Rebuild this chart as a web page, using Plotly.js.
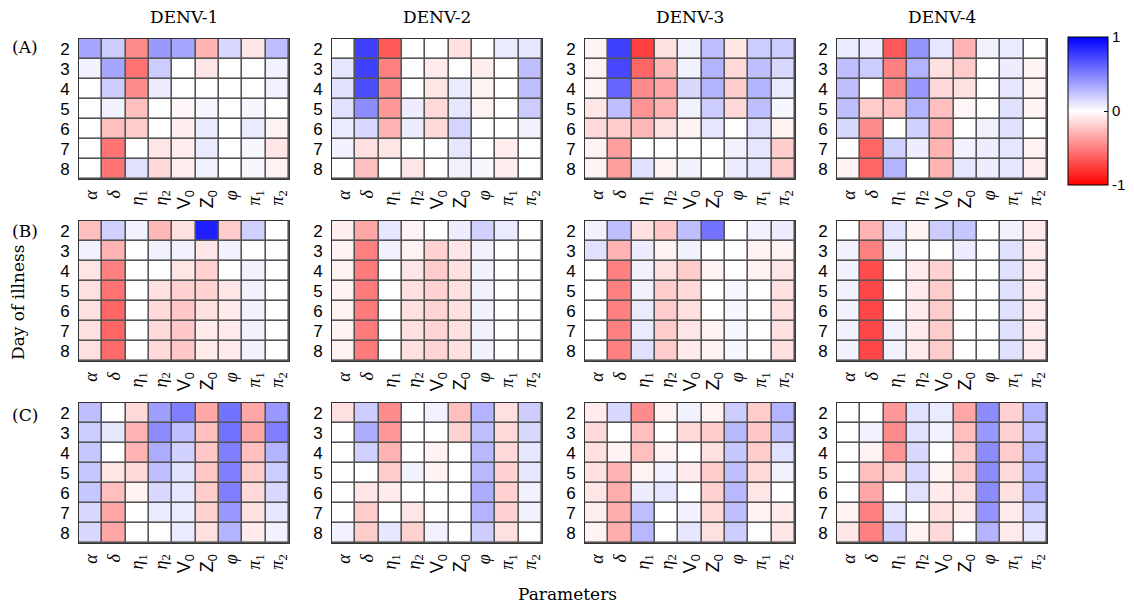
<!DOCTYPE html>
<html>
<head>
<meta charset="utf-8">
<script src="https://cdn.plot.ly/plotly-3.0.1.min.js"></script>
<style>html,body{margin:0;padding:0;background:#fff}#chart{width:1134px;height:607px}</style>
</head>
<body>
<div id="chart"></div>
<script>
// Parameter labels (x categories) and days of illness (y)
const params = ['<i>α</i>', '<i>δ</i>', '<i>η</i><sub>1</sub>', '<i>η</i><sub>2</sub>',
  '<span style="font-family:Liberation Sans">V<sub>0</sub></span>',
  '<span style="font-family:Liberation Sans">Z<sub>0</sub></span>',
  '<i>φ</i>', '<i>π</i><sub>1</sub>', '<i>π</i><sub>2</sub>'];
const days = [2, 3, 4, 5, 6, 7, 8];
const serotypes = ['DENV-1', 'DENV-2', 'DENV-3', 'DENV-4'];
const groups = ['(A)', '(B)', '(C)'];

// Row (A)
const A_DENV1 = [
  [0.35, 0.2, -0.45, 0.4, 0.35, -0.3, 0.15, -0.1, 0.25],
  [0.05, 0.35, -0.55, 0.2, 0, -0.1, 0, 0, 0.05],
  [0, 0.2, -0.45, 0.07, 0, 0, 0, 0, 0.05],
  [0, 0.05, -0.25, 0, -0.03, 0.03, 0, 0.03, 0],
  [0, -0.25, -0.2, 0, -0.07, 0.08, 0, 0.08, -0.05],
  [0, -0.55, 0, -0.1, -0.07, 0.08, 0, 0.03, -0.1],
  [0, -0.55, 0.12, -0.15, -0.07, 0.05, 0, 0.03, -0.05]
];
const A_DENV2 = [
  [0, 0.75, -0.65, 0, 0, -0.12, 0, 0.08, 0.1],
  [0.1, 0.75, -0.5, 0, -0.08, 0, -0.07, 0, 0.25],
  [0.12, 0.7, -0.45, 0, -0.1, 0.08, -0.05, 0, 0.25],
  [0.12, 0.45, -0.4, 0.07, -0.15, 0.1, -0.05, 0, 0.2],
  [0.08, 0.15, -0.3, 0.07, -0.15, 0.17, 0, 0, 0.05],
  [0.05, -0.12, -0.1, 0, 0, 0.1, 0, -0.07, 0],
  [0, -0.25, 0, -0.1, 0, 0.05, 0.03, -0.07, 0]
];
const A_DENV3 = [
  [-0.05, 0.75, -0.75, -0.12, 0.05, 0.25, -0.1, 0.2, 0.2],
  [-0.05, 0.72, -0.6, -0.28, 0.05, 0.3, -0.15, 0.25, 0.15],
  [-0.05, 0.6, -0.45, -0.35, 0.15, 0.3, -0.2, 0.3, 0.08],
  [-0.1, 0.25, -0.42, -0.3, 0.05, 0.2, -0.15, 0.25, 0.03],
  [-0.15, -0.2, -0.28, -0.12, -0.05, 0.1, 0, 0.12, -0.05],
  [-0.05, -0.38, 0, 0, 0, 0, 0.05, 0.1, -0.2],
  [-0.05, -0.38, 0.12, -0.05, 0.05, 0, 0.07, 0.1, -0.2]
];
const A_DENV4 = [
  [0.08, 0.07, -0.65, 0.42, 0.1, -0.3, 0.05, 0.08, 0],
  [0.25, 0.2, -0.5, 0.3, -0.12, -0.2, 0, 0.07, -0.04],
  [0.25, 0, -0.45, 0.4, -0.15, -0.12, 0, 0.1, -0.04],
  [0.25, -0.2, -0.25, 0.3, -0.25, -0.03, 0, 0.12, -0.04],
  [0.15, -0.45, 0, 0.18, -0.3, 0, 0.05, 0.12, 0],
  [0, -0.6, 0.18, 0.07, -0.3, 0.05, 0.07, 0.1, -0.05],
  [-0.05, -0.6, 0.3, 0, -0.3, 0.1, 0.07, 0.1, -0.07]
];
// Row (B)
const B_DENV1 = [
  [-0.25, 0.18, 0.05, -0.28, -0.12, 0.88, -0.2, 0.18, 0],
  [0.05, -0.3, 0, 0.05, 0.05, -0.1, 0.05, 0, 0],
  [-0.1, -0.5, 0, 0, -0.1, -0.18, 0, 0.05, 0],
  [-0.12, -0.55, 0, -0.12, -0.18, -0.18, -0.1, 0.05, 0],
  [-0.12, -0.6, 0, -0.15, -0.22, -0.12, -0.08, 0.05, 0],
  [-0.12, -0.6, 0, -0.15, -0.22, -0.08, -0.08, 0.05, 0],
  [-0.12, -0.58, 0, -0.15, -0.22, -0.08, -0.08, 0.05, 0]
];
const B_DENV2 = [
  [-0.07, -0.35, 0.1, -0.05, 0, 0.07, 0.18, 0.08, 0],
  [-0.05, -0.5, 0.05, -0.05, -0.18, -0.1, 0.05, 0, 0],
  [-0.05, -0.52, 0, -0.1, -0.2, -0.12, 0.05, 0, 0],
  [-0.05, -0.52, 0, -0.12, -0.18, -0.12, 0.05, 0, 0],
  [-0.05, -0.52, 0, -0.12, -0.17, -0.12, 0.05, 0, 0],
  [-0.05, -0.52, 0, -0.12, -0.17, -0.12, 0.05, 0, 0],
  [-0.05, -0.52, 0, -0.12, -0.17, -0.12, 0.05, 0, 0]
];
const B_DENV3 = [
  [0.05, 0.25, -0.12, -0.22, 0.25, 0.55, 0, 0.05, 0.07],
  [0.12, -0.3, 0.07, -0.05, 0.05, 0, 0, -0.05, -0.05],
  [0, -0.5, 0.05, -0.12, -0.2, -0.05, 0, -0.05, -0.1],
  [0, -0.5, 0.05, -0.2, -0.15, 0, 0.03, 0, -0.12],
  [0, -0.5, 0.08, -0.2, -0.12, 0, 0.03, 0, -0.12],
  [0, -0.5, 0.08, -0.2, -0.1, -0.05, 0.03, 0, -0.12],
  [0, -0.5, 0.12, -0.2, -0.08, -0.05, 0.03, 0, -0.12]
];
const B_DENV4 = [
  [0, -0.3, 0.12, -0.05, 0.2, 0.22, 0, 0.05, -0.08],
  [0.05, -0.5, 0.05, 0, 0, 0.07, 0, 0.12, -0.08],
  [0.05, -0.7, 0, -0.08, -0.18, 0, 0, 0.12, -0.08],
  [0.05, -0.72, 0, -0.08, -0.2, 0, 0, 0.12, -0.08],
  [0.05, -0.72, 0, -0.08, -0.2, 0, 0, 0.12, -0.08],
  [0.05, -0.72, 0.05, -0.08, -0.2, 0, 0, 0.12, -0.08],
  [0.05, -0.72, 0.05, -0.08, -0.2, 0, 0, 0.12, -0.08]
];
// Row (C)
const C_DENV1 = [
  [0.25, 0, -0.15, 0.38, 0.5, -0.35, 0.55, -0.35, 0.4],
  [0.2, 0.1, -0.3, 0.45, 0.25, -0.25, 0.55, -0.35, 0.5],
  [0.22, 0, -0.3, 0.32, 0.18, -0.22, 0.5, -0.25, 0.3],
  [0.22, -0.1, -0.15, 0.25, 0.12, -0.22, 0.5, -0.2, 0.2],
  [0.22, -0.25, -0.05, 0.15, 0.1, -0.2, 0.5, -0.15, 0.15],
  [0.15, -0.35, 0, 0.08, 0.08, -0.18, 0.4, -0.12, 0.1],
  [0.15, -0.35, 0, 0, 0.08, -0.12, 0.3, -0.08, 0.05]
];
const C_DENV2 = [
  [-0.12, 0.2, -0.45, 0, 0.05, -0.25, 0.3, -0.12, 0.2],
  [0, 0.32, -0.4, 0, 0, -0.18, 0.25, -0.15, 0.15],
  [0, 0.18, -0.3, 0, -0.05, 0, 0.28, -0.15, 0.1],
  [0, 0, -0.2, 0.05, -0.05, 0, 0.28, -0.18, 0.1],
  [0, -0.1, -0.08, 0, 0, 0, 0.32, -0.18, 0.05],
  [0, -0.2, 0, -0.1, 0, 0, 0.3, -0.18, 0.05],
  [0.05, -0.2, 0.1, -0.18, 0.05, 0, 0.2, -0.12, 0]
];
const C_DENV3 = [
  [-0.08, 0.15, -0.45, -0.05, 0.05, -0.05, 0.2, -0.2, 0.3],
  [-0.15, 0, -0.25, 0, -0.15, -0.2, 0.28, -0.22, 0.25],
  [-0.12, -0.05, -0.25, -0.05, 0, -0.12, 0.22, -0.2, 0.12],
  [-0.12, -0.3, -0.05, 0.05, -0.08, -0.2, 0.25, -0.15, 0.05],
  [-0.1, -0.32, 0.07, 0.1, 0, -0.18, 0.28, -0.1, 0],
  [-0.07, -0.32, 0.25, 0, 0.05, -0.15, 0.25, -0.05, -0.08],
  [-0.05, -0.32, 0.28, 0, 0.1, -0.12, 0.2, 0, -0.1]
];
const C_DENV4 = [
  [0, 0, -0.4, 0.12, 0.08, -0.35, 0.45, -0.18, 0.3],
  [0, 0.05, -0.45, 0.12, 0.05, -0.25, 0.4, -0.18, 0.25],
  [0, -0.05, -0.42, 0.15, 0, -0.2, 0.45, -0.2, 0.3],
  [0, -0.25, -0.2, 0.15, -0.05, -0.2, 0.45, -0.15, 0.3],
  [0, -0.35, 0, 0.12, -0.08, -0.12, 0.45, -0.12, 0.3],
  [-0.05, -0.5, 0.1, 0, -0.12, -0.08, 0.42, -0.08, 0.2],
  [-0.1, -0.5, 0.18, -0.05, -0.15, 0, 0.3, -0.08, 0.1]
];

const panels = [
  [A_DENV1, A_DENV2, A_DENV3, A_DENV4],
  [B_DENV1, B_DENV2, B_DENV3, B_DENV4],
  [C_DENV1, C_DENV2, C_DENV3, C_DENV4]
];

const W = 1134, H = 607;
const colLeft = [79, 332, 585, 837];
const panelW = 210;
const rowTop = [39, 221, 403];
const panelH = 140;

const colorscale = [[0, 'rgb(255,0,0)'], [0.5, 'rgb(255,255,255)'], [1, 'rgb(0,0,255)']];
const xIdx = params.map((p, i) => i);

const data = [];
const layout = {
  width: W, height: H,
  margin: {l: 0, r: 0, t: 0, b: 0},
  paper_bgcolor: '#fff',
  plot_bgcolor: '#555',
  showlegend: false,
  annotations: [],
  font: {family: 'Liberation Sans, Arial, sans-serif', color: '#000'}
};

let n = 0;
for (let r = 0; r < 3; r++) {
  for (let c = 0; c < 4; c++) {
    n++;
    const xa = n === 1 ? 'x' : 'x' + n;
    const ya = n === 1 ? 'y' : 'y' + n;
    const tr = {
      type: 'heatmap',
      z: panels[r][c],
      x: xIdx,
      y: days,
      xaxis: xa, yaxis: ya,
      colorscale: colorscale,
      zmin: -1, zmax: 1,
      xgap: 1.6, ygap: 1.6,
      showscale: n === 1,
      hoverinfo: 'z'
    };
    if (n === 1) {
      tr.colorbar = {
        x: 1068 / W, xanchor: 'left',
        y: 1 - 37 / H, yanchor: 'top',
        lenmode: 'pixels', len: 148,
        thicknessmode: 'pixels', thickness: 40,
        outlinewidth: 1, outlinecolor: '#000',
        tickvals: [-1, 0, 1], ticktext: ['-1', '0', '1'],
        ticks: 'inside', ticklen: 4, tickcolor: '#000',
        tickfont: {family: 'Liberation Sans, Arial, sans-serif', size: 15, color: '#000'},
        xpad: 0, ypad: 0
      };
    }
    data.push(tr);
    const xKey = n === 1 ? 'xaxis' : 'xaxis' + n;
    const yKey = n === 1 ? 'yaxis' : 'yaxis' + n;
    layout[xKey] = {
      domain: [colLeft[c] / W, (colLeft[c] + panelW) / W],
      anchor: ya,
      range: [-0.5, params.length - 0.5],
      tickmode: 'array', tickvals: xIdx, ticktext: params,
      tickangle: -90,
      ticks: 'outside', ticklen: 3, tickcolor: 'rgba(0,0,0,0)',
      tickfont: {family: 'Liberation Serif, serif', size: 18, color: '#000'},
      showline: true, mirror: true, linecolor: '#333', linewidth: 1,
      showgrid: false, zeroline: false, fixedrange: true
    };
    layout[yKey] = {
      domain: [1 - (rowTop[r] + panelH) / H, 1 - rowTop[r] / H],
      anchor: xa,
      range: [8.5, 1.5],
      tickmode: 'array', tickvals: days, ticktext: days.map(String),
      ticks: 'outside', ticklen: 5, tickcolor: 'rgba(0,0,0,0)',
      tickfont: {family: 'Liberation Sans, Arial, sans-serif', size: 17, color: '#000'},
      showline: true, mirror: true, linecolor: '#333', linewidth: 1,
      showgrid: false, zeroline: false, fixedrange: true
    };
  }
}

// Column titles
for (let c = 0; c < 4; c++) {
  layout.annotations.push({
    text: serotypes[c], xref: 'paper', yref: 'paper',
    x: (colLeft[c] + panelW / 2) / W, y: 1 - 17 / H,
    xanchor: 'center', yanchor: 'middle', showarrow: false,
    font: {family: 'DejaVu Serif, serif', size: 17, color: '#000'}
  });
}
// Group labels
const groupY = [47, 231, 415];
for (let r = 0; r < 3; r++) {
  layout.annotations.push({
    text: groups[r], xref: 'paper', yref: 'paper',
    x: 25 / W, y: 1 - groupY[r] / H,
    xanchor: 'center', yanchor: 'middle', showarrow: false,
    font: {family: 'DejaVu Serif, serif', size: 17, color: '#000'}
  });
}
layout.annotations.push({
  text: 'Day of illness', xref: 'paper', yref: 'paper',
  x: 18 / W, y: 1 - 303 / H, textangle: -90,
  xanchor: 'center', yanchor: 'middle', showarrow: false,
  font: {family: 'DejaVu Serif, serif', size: 17, color: '#000'}
});
layout.annotations.push({
  text: 'Parameters', xref: 'paper', yref: 'paper',
  x: 567 / W, y: 1 - 594 / H,
  xanchor: 'center', yanchor: 'middle', showarrow: false,
  font: {family: 'DejaVu Serif, serif', size: 17, color: '#000'}
});

Plotly.newPlot('chart', data, layout, {displayModeBar: false, staticPlot: true});
</script>
</body>
</html>
